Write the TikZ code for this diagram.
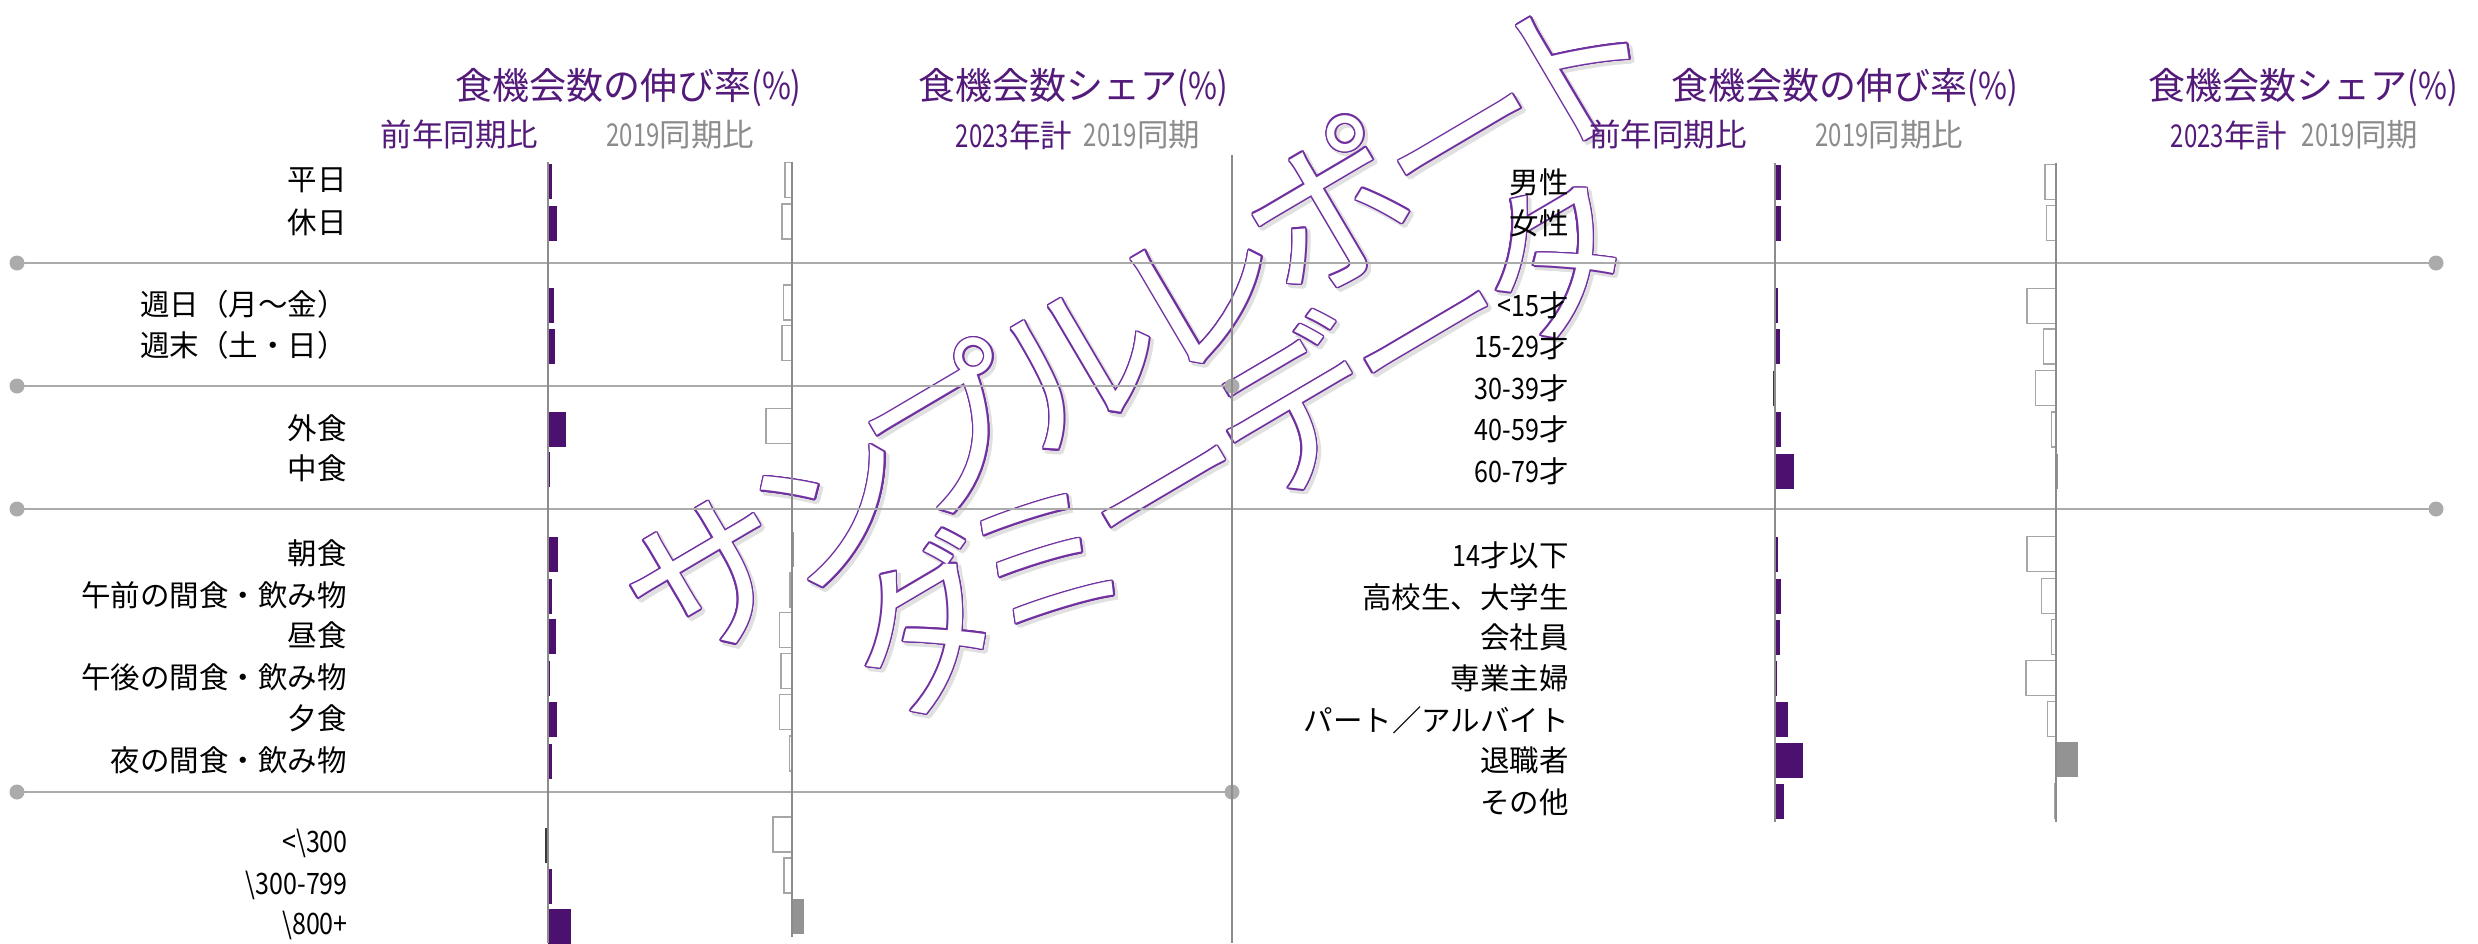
\documentclass[tikz,border=0pt]{standalone}
\usepackage{fontspec}
\setmainfont{Noto Sans CJK JP}
\newfontfamily\nrA[FakeStretch=0.85]{Noto Sans CJK JP}
\newfontfamily\nrB[FakeStretch=0.76]{Noto Sans CJK JP}
\newfontfamily\wmfam[RawFeature=+palt,LetterSpace=-4.5]{Noto Sans CJK JP}
\usetikzlibrary{calc}
\definecolor{barpurple}{HTML}{4C116E}
\definecolor{titlepurple}{HTML}{541A7A}
\definecolor{subgray}{HTML}{8C8C8C}
\definecolor{axisgray}{HTML}{8C8C8C}
\definecolor{sepgray}{HTML}{ABABAB}
\definecolor{outlinegray}{HTML}{A6A6A6}
\definecolor{fillgray}{HTML}{939393}
\definecolor{neggray}{HTML}{3A3A3A}
\definecolor{wmpurple}{HTML}{7030A0}
\newcommand\titlefont{\fontsize{37}{40}\selectfont}
\newcommand\subfont{\fontsize{31.5}{34}\selectfont}
\newcommand\labfont{\fontsize{29.5}{32}\selectfont}
\newcommand\wmfont{\wmfam\fontsize{166}{157}\selectfont}
\newcommand\wmA{サンプルレポート}
\newcommand\wmB{ダミーデータ}
\newcommand\mypbar[3]{%
  \ifdim #3pt<0pt
    \fill[negbar] ({#1+(#3)},{#2-17.5}) rectangle (#1,{#2+17.5});
  \else
    \fill[purpbar] (#1,{#2-17.5}) rectangle ({#1+(#3)},{#2+17.5});
  \fi}
\newcommand\mygbar[3]{%
  \ifdim #3pt<0pt
    \draw[outbar] ({#1+(#3)},{#2-17.5}) rectangle (#1,{#2+17.5});
  \else
    \fill[filbar] (#1,{#2-17.5}) rectangle ({#1+(#3)},{#2+17.5});
  \fi}
\begin{document}
\begin{tikzpicture}[x=1pt,y=-1pt,
  wm/.style={rotate=30.5, inner sep=0pt, font=\wmfont},
  purpbar/.style={fill=barpurple},
  negbar/.style={fill=neggray},
  outbar/.style={draw=outlinegray, fill=white, line width=1.2pt},
  filbar/.style={fill=fillgray},
  axisline/.style={draw=axisgray, line width=1.4pt},
  sepline/.style={draw=sepgray, line width=2.7pt},
  dot/.style={fill=sepgray},
  ttl/.style={inner sep=0pt, font=\titlefont, text=titlepurple},
  subp/.style={inner sep=0pt, font=\subfont, text=titlepurple},
  subg/.style={inner sep=0pt, font=\subfont, text=subgray},
  lab/.style={anchor=east, inner sep=0pt, font=\labfont, text=black}]
\useasboundingbox (0,0) rectangle (2478,943);
\fill[white] (0,0) rectangle (2478,943);

% ---------- watermark (drawn first, hollow look) ----------
\coordinate (wa) at (1136,322);
\coordinate (wb) at (1236,443);
\foreach \a [count=\i] in {0,45,...,315}{
  \node[wm,text=black!12] (wmsa\i) at ($(wa)+(3,3)+(\a:2.2)$) {\wmA};
  \node[wm,text=black!12] (wmsb\i) at ($(wb)+(3,3)+(\a:2.2)$) {\wmB};
}
\foreach \a [count=\i] in {0,22.5,...,337.5}{
  \node[wm,text=wmpurple] (wmpa\i) at ($(wa)+(\a:1.5)$) {\wmA};
  \node[wm,text=wmpurple] (wmpb\i) at ($(wb)+(\a:1.5)$) {\wmB};
}
\node[wm,text=white] (wma) at (wa) {\wmA};
\node[wm,text=white] (wmb) at (wb) {\wmB};

% ---------- headers ----------
\node[ttl] (lt1) at (628.5,88) {食機会数の伸び率{\nrA(\%)}};
\node[ttl] (lt2) at (1073.5,88) {食機会数シェア{\nrA(\%)}};
\node[ttl] (rt1) at (1845,88) {食機会数の伸び率{\nrA(\%)}};
\node[ttl] (rt2) at (2303,88) {食機会数シェア{\nrA(\%)}};
\node[subp] (ls1) at (459.5,135) {前年同期比};
\node[subg] (ls2) at (680.5,135) {{\nrB 2019}同期比};
\node[subp] (ls3) at (1014,135) {{\nrB 2023}年計};
\node[subg] (ls4) at (1142,135) {{\nrB 2019}同期};
\node[subp] (rs1) at (1668,135) {前年同期比};
\node[subg] (rs2) at (1889.5,135) {{\nrB 2019}同期比};
\node[subp] (rs3) at (2229,135) {{\nrB 2023}年計};
\node[subg] (rs4) at (2360,135) {{\nrB 2019}同期};

% ---------- separators ----------
\coordinate (s1a) at (17,263);  \coordinate (s1b) at (2436,263);
\coordinate (s2a) at (17,386);  \coordinate (s2b) at (1232,386);
\coordinate (s3a) at (17,509);  \coordinate (s3b) at (2436,509);
\coordinate (s4a) at (17,792);  \coordinate (s4b) at (1232,792);
\foreach \s in {s1,s2,s3,s4}{
  \draw[sepline] (\s a) -- (\s b);
  \fill[dot] (\s a) circle (7.5);
  \fill[dot] (\s b) circle (7.5);
}

% ---------- axes ----------
\coordinate (la1) at (548,162);  \coordinate (la2) at (548,943);
\coordinate (lg1) at (792,162);  \coordinate (lg2) at (792,937);
\coordinate (dv1) at (1232,155); \coordinate (dv2) at (1232,943);
\coordinate (ra1) at (1775,163); \coordinate (ra2) at (1775,822);
\coordinate (rg1) at (2056,163); \coordinate (rg2) at (2056,822);

% ---------- left panel rows ----------
\node[lab] (L1) at (347,180) {平日};            \mypbar{548}{181.5}{4.3}  \mygbar{792}{180}{-7}
\node[lab] (L2) at (347,222) {休日};            \mypbar{548}{223.5}{8.7}  \mygbar{792}{221.5}{-10}
\node[lab] (L3) at (347,304) {週日（月～金）};   \mypbar{548}{305.5}{5.5}  \mygbar{792}{302.5}{-8.7}
\node[lab] (L4) at (347,345) {週末（土・日）};   \mypbar{548}{346.5}{7}    \mygbar{792}{343}{-10}
\node[lab] (L5) at (347,428) {外食};            \mypbar{548}{429.5}{18}   \mygbar{792}{426}{-26}
\node[lab] (L6) at (347,468) {中食};            \mypbar{548}{469.5}{1.5}
\node[lab] (L7) at (347,553) {朝食};            \mypbar{548}{554.5}{10.3} \mygbar{792}{549}{1.5}
\node[lab] (L8) at (347,595) {午前の間食・飲み物}; \mypbar{548}{596.5}{4}    \mygbar{792}{590}{-2}
\node[lab] (L9) at (347,635) {昼食};            \mypbar{548}{636.5}{7.9}  \mygbar{792}{630}{-12.6}
\node[lab] (L10) at (347,677) {午後の間食・飲み物}; \mypbar{548}{678.5}{1.6} \mygbar{792}{671}{-11}
\node[lab] (L11) at (347,718) {夕食};           \mypbar{548}{719.5}{8.7}  \mygbar{792}{712}{-12.6}
\node[lab] (L12) at (347,760) {夜の間食・飲み物}; \mypbar{548}{761.5}{4}    \mygbar{792}{753.5}{-2.4}
\node[lab] (L13) at (348,843) {{\nrA <\textbackslash 300}};   \mypbar{548}{845}{-3}  \mygbar{792}{834.5}{-19}
\node[lab] (L14) at (348,885) {{\nrA \textbackslash 300-799}}; \mypbar{548}{886.5}{4} \mygbar{792}{875.5}{-8}
\node[lab] (L15) at (348,925) {{\nrA \textbackslash 800+}};   \mypbar{548}{926.5}{23} \mygbar{792}{916}{11.5}

% ---------- right panel rows ----------
\node[lab] (R1) at (1569,182) {男性};              \mypbar{1775}{182}{6.3}  \mygbar{2056}{182}{-11}
\node[lab] (R2) at (1569,223) {女性};              \mypbar{1775}{223}{6.3}  \mygbar{2056}{223}{-9.5}
\node[lab] (R3) at (1569,305) {{\nrA <15}才};       \mypbar{1775}{305.5}{3.2} \mygbar{2056}{306}{-29}
\node[lab] (R4) at (1569,346.5) {{\nrA 15-29}才};   \mypbar{1775}{346.5}{4.7} \mygbar{2056}{346.5}{-12.6}
\node[lab] (R5) at (1569,388) {{\nrA 30-39}才};     \mypbar{1775}{388}{-2.4}  \mygbar{2056}{388}{-20.5}
\node[lab] (R6) at (1569,429.5) {{\nrA 40-59}才};   \mypbar{1775}{429.5}{6.3} \mygbar{2056}{429.5}{-4.7}
\node[lab] (R7) at (1569,471) {{\nrA 60-79}才};     \mypbar{1775}{471}{19}    \mygbar{2056}{471}{2}
\node[lab] (R8) at (1569,555) {{\nrA 14}才以下};     \mypbar{1775}{554}{3.2}   \mygbar{2056}{554}{-29}
\node[lab] (R9) at (1569,597) {高校生、大学生};      \mypbar{1775}{596}{6.3}   \mygbar{2056}{596}{-14.2}
\node[lab] (R10) at (1569,637) {会社員};            \mypbar{1775}{637}{4.7}   \mygbar{2056}{637}{-4.7}
\node[lab] (R11) at (1569,678) {専業主婦};          \mypbar{1775}{678}{2.4}   \mygbar{2056}{678}{-30}
\node[lab] (R12) at (1569,720) {パート／アルバイト};  \mypbar{1775}{719}{12.6}  \mygbar{2056}{719}{-8.7}
\node[lab] (R13) at (1569,760) {退職者};            \mypbar{1775}{760}{27.6}  \mygbar{2056}{759}{22.1}
\node[lab] (R14) at (1569,802) {その他};            \mypbar{1775}{801}{8.7}   \mygbar{2056}{801}{-1.6}

% ---------- axis lines on top ----------
\draw[axisline] (la1) -- (la2);
\draw[axisline] (lg1) -- (lg2);
\draw[axisline] (dv1) -- (dv2);
\draw[axisline] (ra1) -- (ra2);
\draw[axisline] (rg1) -- (rg2);
\end{tikzpicture}
\end{document}
